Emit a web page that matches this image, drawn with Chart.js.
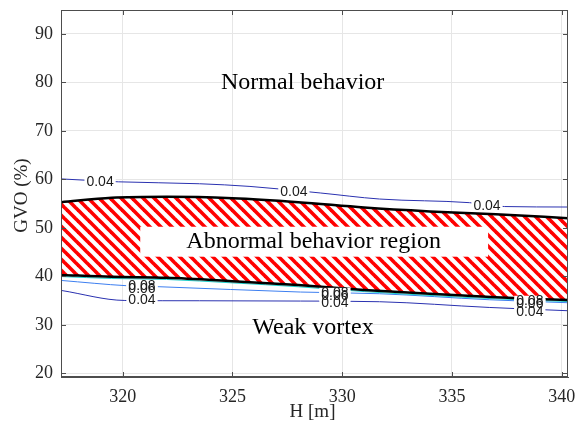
<!DOCTYPE html>
<html>
<head>
<meta charset="utf-8">
<script src="https://cdn.jsdelivr.net/npm/chart.js@4.4.1/dist/chart.umd.min.js"></script>
<style>
  html, body { margin: 0; padding: 0; background: #fff; }
  canvas { display: block; }
</style>
</head>
<body>
<canvas id="chart" width="575" height="430"></canvas>
<script>
// Axis ticks
const xTicks = [320, 325, 330, 335, 340];
const yTicks = [20, 30, 40, 50, 60, 70, 80, 90];

// Boundaries of the abnormal behaviour band (H in m, GVO in %)
const boundaryH = [317.2, 319.5, 322, 325, 328, 331, 334, 337, 340.3];
const upperBoundary = [55.3, 56.2, 56.4, 56.1, 55.3, 54.2, 53.4, 52.8, 52.0];
const lowerBoundary = [40.3, 39.9, 39.7, 39.0, 38.2, 37.2, 36.4, 35.7, 35.1];

// Iso-lines
const level008 = [39.95, 39.55, 39.35, 38.65, 37.85, 36.85, 36.05, 35.35, 34.8];
const level006H = [317.2, 320.2, 321.7, 328.1, 331.7, 336.7, 340.3];
const level006 = [39.15, 38.06, 37.85, 36.76, 36.41, 35.17, 34.55];
const level004UpperH = [317.2, 319.8, 323.5, 325.8, 329.0, 331.7, 335.8, 337.4, 340.3];
const level004Upper = [60.1, 59.5, 59.1, 58.55, 57.2, 55.95, 55.2, 54.4, 54.3];
const level004LowerH = [317.2, 320.1, 323.5, 328.1, 331.7, 336.7, 340.3];
const level004Lower = [37.09, 35.02, 34.96, 34.9, 34.76, 33.58, 32.9];

// Iso-line labels: [H, GVO, text]
const contourLabels = [
  [318.97, 59.51, '0.04'], [327.8, 57.45, '0.04'], [336.6, 54.56, '0.04'],
  [320.88, 35.17, '0.04'], [329.67, 34.55, '0.04'], [338.55, 32.69, '0.04'],
  [320.88, 37.44, '0.06'], [329.67, 36.0, '0.06'], [338.55, 34.34, '0.06'],
  [320.88, 38.06, '0.08'], [329.67, 36.6, '0.08'], [338.55, 34.96, '0.08']
];

// Region captions: [H, GVO, text]
const regionLabels = [
  [328.2, 80.0, 'Normal behavior'],
  [328.7, 47.1, 'Abnormal behavior region'],
  [328.67, 29.4, 'Weak vortex']
];
// White caption box inside the band: [H0, H1, GVO0, GVO1]
const captionBox = [320.8, 336.65, 44.05, 50.23];

const serif = "'Times New Roman', 'Liberation Serif', serif";
const sans = "Arial, 'Liberation Sans', sans-serif";

const pts = (xs, ys) => xs.map((x, i) => ({ x, y: ys[i] }));

function hatchPattern() {
  const n = 11;
  const c = document.createElement('canvas');
  c.width = n; c.height = n;
  const g = c.getContext('2d');
  g.fillStyle = '#ffffff';
  g.fillRect(0, 0, n, n);
  g.strokeStyle = '#ff0000';
  g.lineWidth = 3.6;
  for (const o of [-n, 0, n]) {
    g.beginPath();
    g.moveTo(o - 2, -2);
    g.lineTo(o + n + 2, n + 2);
    g.stroke();
  }
  return g.createPattern(c, 'repeat');
}

const lineBase = { pointRadius: 0, cubicInterpolationMode: 'monotone', fill: false };

const overlay = {
  id: 'overlay',
  afterDatasetsDraw(chart) {
    const { ctx, scales: { x, y } } = chart;
    ctx.save();
    // caption box in the band
    const bx0 = x.getPixelForValue(captionBox[0]);
    const bx1 = x.getPixelForValue(captionBox[1]);
    const by0 = y.getPixelForValue(captionBox[3]);
    const by1 = y.getPixelForValue(captionBox[2]);
    ctx.fillStyle = '#ffffff';
    ctx.fillRect(bx0, by0, bx1 - bx0, by1 - by0);

    // iso-line labels: gaps first, then text
    ctx.font = '14px ' + sans;
    ctx.textAlign = 'center';
    ctx.textBaseline = 'middle';
    for (const [h, g, t] of contourLabels) {
      const px = x.getPixelForValue(h), py = y.getPixelForValue(g);
      const w = ctx.measureText(t).width + 4;
      ctx.fillStyle = '#ffffff';
      ctx.fillRect(px - w / 2, py - 5, w, 10);
    }
    ctx.fillStyle = '#1a1a1a';
    for (const [h, g, t] of contourLabels) {
      ctx.fillText(t, x.getPixelForValue(h), y.getPixelForValue(g) + 0.5);
    }

    // region captions
    ctx.font = '24px ' + serif;
    ctx.fillStyle = '#000000';
    for (const [h, g, t] of regionLabels) {
      ctx.fillText(t, x.getPixelForValue(h), y.getPixelForValue(g));
    }
    ctx.restore();
  },
  afterDraw(chart) {
    const { ctx, chartArea: a, scales: { x, y } } = chart;
    ctx.save();
    ctx.strokeStyle = '#4d4d4d';
    ctx.lineWidth = 1;
    // box
    ctx.strokeRect(Math.round(a.left) + 0.5, Math.round(a.top) + 0.5,
                   Math.round(a.right - a.left) - 1, Math.round(a.bottom - a.top) - 1);
    // inward ticks
    ctx.beginPath();
    for (const v of xTicks) {
      const px = Math.round(x.getPixelForValue(v)) + 0.5;
      ctx.moveTo(px, a.bottom); ctx.lineTo(px, a.bottom - 5);
      ctx.moveTo(px, a.top); ctx.lineTo(px, a.top + 5);
    }
    for (const v of yTicks) {
      const py = Math.round(y.getPixelForValue(v)) + 0.5;
      ctx.moveTo(a.left, py); ctx.lineTo(a.left + 5, py);
      ctx.moveTo(a.right, py); ctx.lineTo(a.right - 5, py);
    }
    ctx.stroke();

    // axis titles
    ctx.fillStyle = '#262626';
    ctx.font = '19px ' + serif;
    ctx.textAlign = 'center';
    ctx.textBaseline = 'middle';
    ctx.fillText('H [m]', (a.left + a.right) / 2 - 2, 412);
    ctx.translate(22, (a.top + a.bottom) / 2 + 2);
    ctx.rotate(-Math.PI / 2);
    ctx.fillText('GVO (%)', 0, 0);
    ctx.restore();
  }
};

const canvas = document.getElementById('chart');
new Chart(canvas.getContext('2d'), {
  type: 'line',
  data: {
    datasets: [
      { ...lineBase, label: 'upper boundary', data: pts(boundaryH, upperBoundary),
        borderColor: '#000000', borderWidth: 2.5, fill: '+1', backgroundColor: hatchPattern() },
      { ...lineBase, label: 'lower boundary', data: pts(boundaryH, lowerBoundary),
        borderColor: '#000000', borderWidth: 2.5 },
      { ...lineBase, label: '0.08', data: pts(boundaryH, level008),
        borderColor: '#1fd0cc', borderWidth: 1 },
      { ...lineBase, label: '0.06', data: pts(level006H, level006),
        borderColor: '#3d7ff0', borderWidth: 1 },
      { ...lineBase, label: '0.04', data: pts(level004UpperH, level004Upper),
        borderColor: '#2a31b0', borderWidth: 1 },
      { ...lineBase, label: '0.04', data: pts(level004LowerH, level004Lower),
        borderColor: '#2a31b0', borderWidth: 1 }
    ]
  },
  options: {
    responsive: false,
    animation: false,
    devicePixelRatio: 1,
    layout: { padding: { top: 10, right: 7, left: 0, bottom: 0 } },
    plugins: {
      legend: { display: false },
      tooltip: { enabled: false },
      filler: { drawTime: 'beforeDatasetsDraw' }
    },
    scales: {
      x: {
        type: 'linear', min: 317.19, max: 340.29,
        afterFit(s) { s.height = 53; s.paddingLeft = 0; s.paddingRight = 0; },
        afterBuildTicks(s) { s.ticks = xTicks.map(v => ({ value: v })); },
        grid: { color: '#e6e6e6', drawTicks: false },
        border: { color: '#4d4d4d', width: 1 },
        ticks: { padding: 9, color: '#262626', font: { family: serif, size: 18 }, maxRotation: 0 }
      },
      y: {
        type: 'linear', min: 19.23, max: 94.95,
        afterFit(s) { s.width = 61; s.paddingTop = 0; s.paddingBottom = 0; },
        afterBuildTicks(s) { s.ticks = yTicks.map(v => ({ value: v })); },
        grid: { color: '#e6e6e6', drawTicks: false },
        border: { color: '#4d4d4d', width: 1 },
        ticks: { padding: 8, color: '#262626', font: { family: serif, size: 18 } }
      }
    }
  },
  plugins: [overlay]
});
</script>
</body>
</html>
